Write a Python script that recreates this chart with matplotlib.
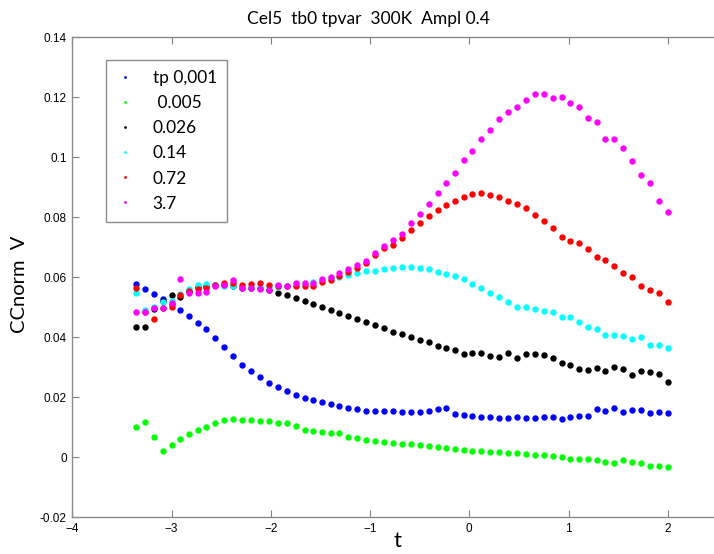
import matplotlib
matplotlib.use("Agg")
import matplotlib.pyplot as plt

# sample times (same grid for every series)
T = [-3.36, -3.27, -3.18, -3.09, -3.00, -2.91, -2.82, -2.73, -2.65, -2.56,
     -2.47, -2.38, -2.29, -2.20, -2.11, -2.02, -1.93, -1.84, -1.75, -1.66,
     -1.57, -1.48, -1.39, -1.31, -1.22, -1.13, -1.04, -0.95, -0.86, -0.77,
     -0.68, -0.59, -0.50, -0.41, -0.32, -0.23, -0.14, -0.05, 0.03, 0.12,
     0.21, 0.30, 0.39, 0.48, 0.57, 0.66, 0.75, 0.84, 0.93, 1.02,
     1.11, 1.20, 1.29, 1.37, 1.46, 1.55, 1.64, 1.73, 1.82, 1.91, 2.00]

tp_0001 = [0.0577, 0.0560, 0.0544, 0.0527, 0.0511, 0.0491, 0.0471, 0.0449, 0.0428, 0.0397,
           0.0367, 0.0338, 0.0309, 0.0287, 0.0267, 0.0249, 0.0233, 0.0222, 0.0209, 0.0199,
           0.0192, 0.0184, 0.0178, 0.0172, 0.0165, 0.0160, 0.0155, 0.0153, 0.0155, 0.0153,
           0.0151, 0.0152, 0.0152, 0.0155, 0.0161, 0.0165, 0.0145, 0.0141, 0.0138, 0.0135,
           0.0135, 0.0132, 0.0132, 0.0133, 0.0132, 0.0132, 0.0135, 0.0135, 0.0129, 0.0135,
           0.0139, 0.0139, 0.0161, 0.0153, 0.0165, 0.0152, 0.0157, 0.0157, 0.0148, 0.0151, 0.0147]

tp_0005 = [0.0102, 0.0119, 0.0067, 0.0020, 0.0042, 0.0062, 0.0078, 0.0091, 0.0102, 0.0113,
           0.0123, 0.0129, 0.0124, 0.0123, 0.0122, 0.0121, 0.0115, 0.0113, 0.0104, 0.0091,
           0.0088, 0.0085, 0.0082, 0.0080, 0.0069, 0.0065, 0.0058, 0.0054, 0.0052, 0.0049,
           0.0045, 0.0044, 0.0041, 0.0038, 0.0033, 0.0030, 0.0029, 0.0024, 0.0022, 0.0020,
           0.0017, 0.0017, 0.0015, 0.0013, 0.0011, 0.0009, 0.0007, 0.0004, 0.0000, -0.0006,
           -0.0005, -0.0005, -0.0010, -0.0017, -0.0020, -0.0009, -0.0016, -0.0020, -0.0028, -0.0028, -0.0032]

tp_0026 = [0.0435, 0.0435, 0.0495, 0.0520, 0.0540, 0.0535, 0.0555, 0.0567, 0.0572, 0.0575,
           0.0573, 0.0570, 0.0566, 0.0565, 0.0563, 0.0558, 0.0549, 0.0541, 0.0532, 0.0522,
           0.0511, 0.0502, 0.0491, 0.0482, 0.0471, 0.0461, 0.0451, 0.0440, 0.0431, 0.0419,
           0.0411, 0.0402, 0.0390, 0.0383, 0.0372, 0.0364, 0.0357, 0.0345, 0.0348, 0.0348,
           0.0339, 0.0335, 0.0349, 0.0332, 0.0343, 0.0345, 0.0342, 0.0332, 0.0313, 0.0308,
           0.0295, 0.0292, 0.0298, 0.0287, 0.0300, 0.0293, 0.0273, 0.0288, 0.0285, 0.0278, 0.0250]

tp_014 = [0.0549, 0.0491, 0.0500, 0.0519, 0.0521, 0.0545, 0.0560, 0.0575, 0.0578, 0.0575,
          0.0572, 0.0570, 0.0568, 0.0567, 0.0567, 0.0567, 0.0568, 0.0570, 0.0573, 0.0577,
          0.0583, 0.0591, 0.0597, 0.0602, 0.0608, 0.0615, 0.0620, 0.0622, 0.0628, 0.0632,
          0.0634, 0.0635, 0.0630, 0.0628, 0.0619, 0.0611, 0.0604, 0.0593, 0.0578, 0.0563,
          0.0547, 0.0533, 0.0519, 0.0502, 0.0502, 0.0494, 0.0489, 0.0483, 0.0467, 0.0469,
          0.0452, 0.0435, 0.0427, 0.0408, 0.0408, 0.0404, 0.0394, 0.0400, 0.0374, 0.0374, 0.0365]

tp_072 = [0.0563, 0.0483, 0.0461, 0.0497, 0.0502, 0.0541, 0.0554, 0.0560, 0.0565, 0.0574,
          0.0580, 0.0580, 0.0574, 0.0577, 0.0580, 0.0574, 0.0572, 0.0572, 0.0571, 0.0572,
          0.0572, 0.0585, 0.0592, 0.0605, 0.0618, 0.0632, 0.0646, 0.0674, 0.0696, 0.0708,
          0.0732, 0.0758, 0.0781, 0.0803, 0.0824, 0.0841, 0.0855, 0.0869, 0.0877, 0.0880,
          0.0874, 0.0869, 0.0854, 0.0843, 0.0830, 0.0808, 0.0788, 0.0763, 0.0733, 0.0721,
          0.0713, 0.0693, 0.0667, 0.0658, 0.0638, 0.0615, 0.0601, 0.0572, 0.0558, 0.0549, 0.0519]

tp_37 = [0.0483, 0.0483, 0.0499, 0.0499, 0.0515, 0.0594, 0.0547, 0.0547, 0.0552, 0.0571,
         0.0574, 0.0591, 0.0565, 0.0563, 0.0560, 0.0558, 0.0574, 0.0571, 0.0580, 0.0580,
         0.0580, 0.0593, 0.0600, 0.0613, 0.0627, 0.0641, 0.0655, 0.0682, 0.0704, 0.0724,
         0.0744, 0.0780, 0.0810, 0.0843, 0.0882, 0.0913, 0.0949, 0.0991, 0.1021, 0.1060,
         0.1091, 0.1129, 0.1150, 0.1169, 0.1190, 0.1210, 0.1210, 0.1199, 0.1200, 0.1180,
         0.1169, 0.1130, 0.1119, 0.1060, 0.1060, 0.1030, 0.0988, 0.0941, 0.0913, 0.0854, 0.0818]

SERIES = [tp_0001, tp_0005, tp_0026, tp_014, tp_072, tp_37]
LABELS = ["tp 0,001", " 0.005", "0.026", "0.14", "0.72", "3.7"]
COLORS = ["#0000ff", "#00ff00", "#000000", "#00ffff", "#ff0000", "#ff00ff"]

# the tick at t=3 lies beyond the cropped image, so it is left out
X_TICKS = [-4, -3, -2, -1, 0, 1, 2]
Y_TICKS = [-0.02, 0, 0.02, 0.04, 0.06, 0.08, 0.1, 0.12, 0.14]
Y_TICKLABELS = ["-0.02", "0", "0.02", "0.04", "0.06", "0.08", "0.1", "0.12", "0.14"]

W, H = 714, 554
fig = plt.figure(figsize=(W / 100, H / 100), dpi=100)
# axes runs past the right edge of the image, as in the original
ax = fig.add_axes([72.3 / W, 1 - 517.3 / H, 694.7 / W, 480 / H])

for ys, lab, col in zip(SERIES, LABELS, COLORS):
    ax.plot(T, ys, linestyle="none", marker="o", markersize=4.6,
            markeredgewidth=0, color=col, label=lab)

ax.set_xlim(-4, 3)
ax.set_ylim(-0.02, 0.14)
ax.set_xticks(X_TICKS)
ax.set_yticks(Y_TICKS)
ax.set_yticklabels(Y_TICKLABELS)
ax.tick_params(direction="in", length=5, width=0.8, color="#808080",
               labelsize=8.5, pad=4, top=True, right=True)
for lbl in ax.get_xticklabels() + ax.get_yticklabels():
    lbl.set_fontfamily("Liberation Sans")
for sp in ax.spines.values():
    sp.set_color("#8a8a8a")
    sp.set_linewidth(1.0)

fig.text(368 / W, 1 - 19 / H, "Cel5  tb0 tpvar  300K  Ampl 0.4",
         ha="center", va="center", fontsize=12.5, family="Lato")
fig.text(397 / W, 1 - 541 / H, "t", ha="center", va="center",
         fontsize=16, family="Lato")
fig.text(20 / W, 1 - 284 / H, "CCnorm  V", ha="center", va="center",
         rotation=90, fontsize=14.5, family="Lato")

handles = [plt.Line2D([], [], linestyle="none", marker="o", markersize=2,
                      markeredgewidth=0, color=c) for c in COLORS]
leg = fig.legend(handles, LABELS, loc="upper left",
                 bbox_to_anchor=(105.7 / W, 1 - 60 / H),
                 prop={"family": "Lato", "size": 12.5},
                 frameon=True, fancybox=False, borderpad=0.6,
                 labelspacing=0.52, handlelength=1.0, handletextpad=1.1,
                 borderaxespad=0)
leg.get_frame().set_edgecolor("#707070")
leg.get_frame().set_linewidth(1.0)

fig.savefig("out.png", dpi=100)
